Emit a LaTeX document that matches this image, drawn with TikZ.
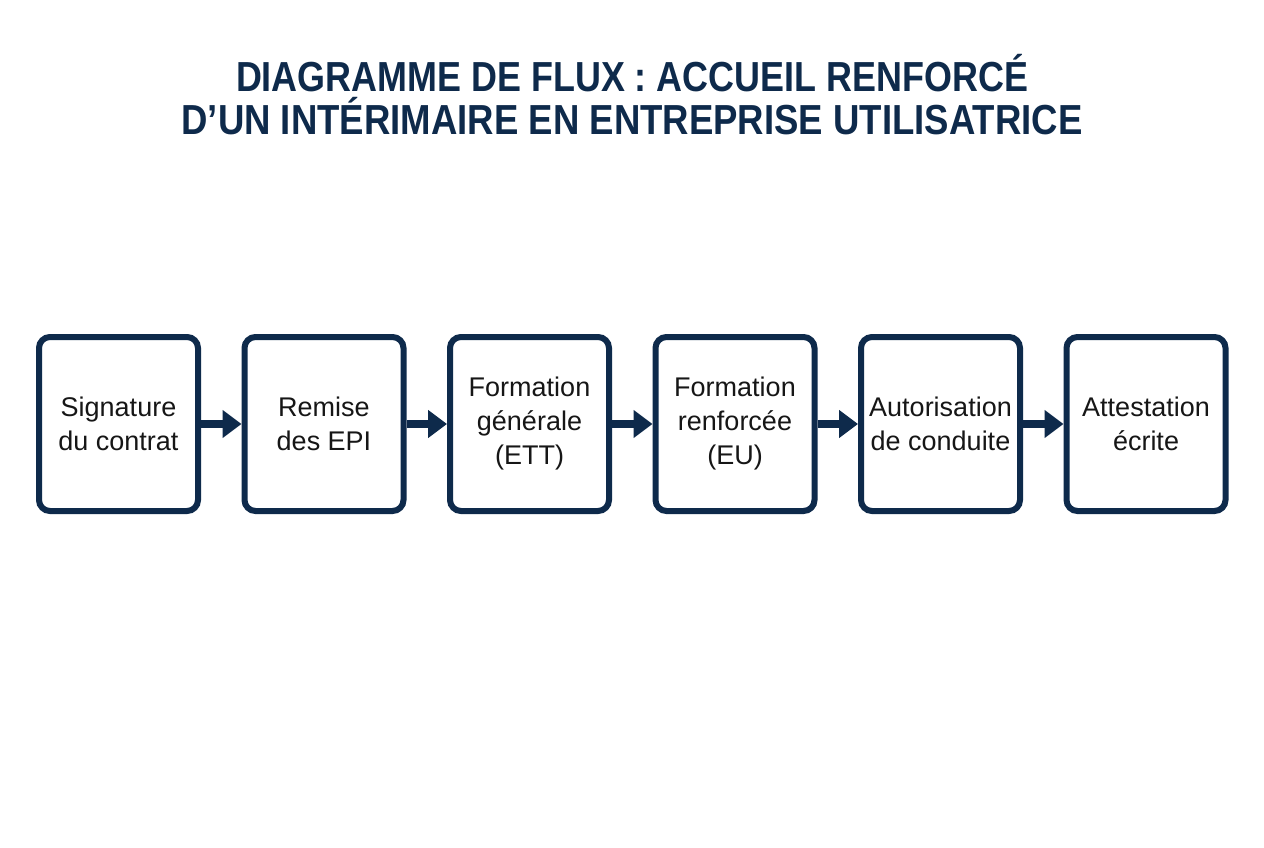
\documentclass[tikz,border=0pt]{standalone}
\usepackage{fontspec}
\setmainfont{Liberation Sans}
\usetikzlibrary{arrows.meta}
\definecolor{navy}{HTML}{0E2A4B}
\definecolor{ink}{HTML}{161616}
\begin{document}
\begin{tikzpicture}[x=1pt,y=-1pt,
  stepbox/.style={draw=navy, line width=6pt, rounded corners=11pt, fill=white,
    minimum width=159pt, minimum height=174pt, align=center,
    font=\fontsize{27}{34}\selectfont, text=ink, inner sep=0pt},
  flow/.style={draw=navy, line width=8pt, -{Triangle[length=19pt,width=27pt]}},
  titletext/.style={text=navy, font=\fontsize{42}{50}\selectfont\bfseries, inner sep=0pt, anchor=base}]
\useasboundingbox[fill=white] (0,0) rectangle (1264,848);
\node[titletext] (t1) at (632,92) {\resizebox{792pt}{\height}{DIAGRAMME DE FLUX : ACCUEIL RENFORCÉ}};
\node[titletext] (t2) at (632,135) {\resizebox{901pt}{\height}{D'UN INTÉRIMAIRE EN ENTREPRISE UTILISATRICE}};
\node[stepbox] (s1) at (118.5,424) {Signature\\du contrat};
\node[stepbox] (s2) at (324,424) {Remise\\des EPI};
\node[stepbox] (s3) at (529.5,424) {Formation\\générale\\(ETT)};
\node[stepbox] (s4) at (735,424) {Formation\\renforcée\\(EU)};
\node[stepbox] (s5) at (940.5,424) {Autorisation\\de conduite};
\node[stepbox] (s6) at (1146,424) {Attestation\\écrite};
\draw[flow] (s1.east) -- (s2.west);
\draw[flow] (s2.east) -- (s3.west);
\draw[flow] (s3.east) -- (s4.west);
\draw[flow] (s4.east) -- (s5.west);
\draw[flow] (s5.east) -- (s6.west);
\end{tikzpicture}
\end{document}
